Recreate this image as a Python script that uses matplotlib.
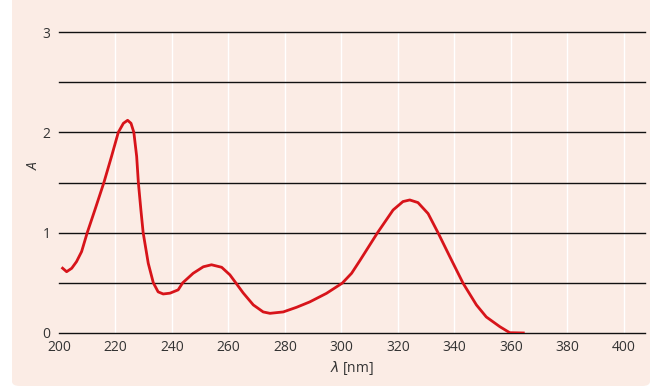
import matplotlib.pyplot as plt
from matplotlib.patches import FancyBboxPatch

plt.rcParams['font.family'] = ['Open Sans', 'DejaVu Sans']

# absorption spectrum
wavelength = [200.9, 202.7, 204.5, 206.2, 208.0, 210.0, 212.7, 215.9, 218.6, 221.0,
              222.8, 224.3, 225.5, 226.5, 227.5, 228.1, 229.0, 229.8, 231.6, 233.4,
              235.1, 236.9, 239.3, 242.2, 243.8, 247.5, 251.1, 254.0, 257.6, 260.5,
              262.6, 265.2, 268.8, 272.3, 274.7, 279.4, 284.1, 288.8, 294.7, 300.3,
              303.6, 306.5, 312.8, 318.3, 321.8, 324.2, 327.1, 330.7, 334.2, 338.4,
              343.1, 347.8, 351.3, 356.1, 359.6, 364.9]
absorbance = [0.655, 0.611, 0.645, 0.711, 0.811, 1.0, 1.226, 1.50, 1.76, 2.0,
              2.09, 2.12, 2.09, 2.0, 1.76, 1.50, 1.226, 1.0, 0.695, 0.50,
              0.41, 0.389, 0.397, 0.43, 0.50, 0.595, 0.66, 0.68, 0.655, 0.58,
              0.50, 0.40, 0.28, 0.21, 0.196, 0.21, 0.256, 0.31, 0.395, 0.497,
              0.595, 0.72, 1.0, 1.226, 1.31, 1.326, 1.30, 1.19, 1.0, 0.76,
              0.495, 0.28, 0.16, 0.063, 0.003, 0.0]

xticks = [200, 220, 240, 260, 280, 300, 320, 340, 360, 380, 400]
yticks = [0, 1, 2, 3]
hlines = [0, 0.5, 1, 1.5, 2, 2.5, 3]

bg = '#fbece5'
fig = plt.figure(figsize=(6.53, 3.87), dpi=100)
fig.patch.set_facecolor('white')

panel = FancyBboxPatch((12 / 653, 1 / 387), 638 / 653, 400 / 387,
                       boxstyle='round,pad=0,rounding_size=0.012',
                       transform=fig.transFigure, facecolor=bg, edgecolor='none',
                       zorder=-10)
fig.patches.append(panel)

ax = fig.add_axes([59 / 653, 54 / 387, 586 / 653, 301 / 387])
ax.set_facecolor(bg)
ax.set_xlim(200, 407.5)
ax.set_ylim(0, 3)

for x in xticks[1:]:
    ax.axvline(x, color='white', lw=1.0, zorder=1)
for y in hlines:
    ax.axhline(y, color='#111111', lw=1.0, zorder=2, clip_on=False)

ax.plot(wavelength, absorbance, color='#d7141a', lw=2.0, zorder=3,
        solid_joinstyle='round', solid_capstyle='butt')

for s in ax.spines.values():
    s.set_visible(False)
ax.set_xticks(xticks)
ax.set_yticks(yticks)
ax.tick_params(axis='both', length=0, labelsize=10, labelcolor='#333333')
ax.tick_params(axis='x', pad=5)
ax.tick_params(axis='y', pad=6)

ax.set_xlabel(r'$\lambda$ [nm]', fontsize=10, color='#333333', labelpad=3)
ax.set_ylabel('A', fontsize=10, color='#333333', style='italic')
ax.yaxis.set_label_coords(-0.03, 0.555)

fig.savefig('out.png', dpi=100, facecolor='white')
